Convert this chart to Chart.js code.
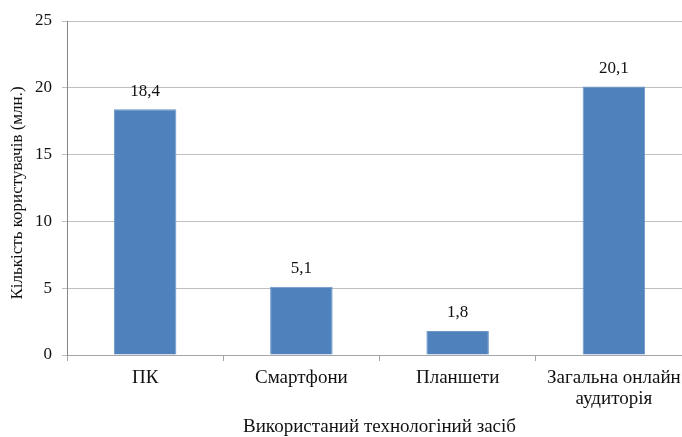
<!DOCTYPE html>
<html lang="uk">
<head>
<meta charset="utf-8">
<script src="https://cdn.jsdelivr.net/npm/chart.js@4/dist/chart.umd.min.js"></script>
<style>
  html, body { margin: 0; padding: 0; background: #fff; overflow: hidden; }
  #wrap { position: relative; width: 700px; height: 437px; }
</style>
</head>
<body>
<div id="wrap"><canvas id="chart" width="700" height="437"></canvas></div>
<script>
// Кількість користувачів за технологічним засобом, млн.
const categories = ['ПК', 'Смартфони', 'Планшети', ['Загальна онлайн', 'аудиторія']];
const users = [18.4, 5.1, 1.8, 20.1];
const yTicks = [0, 5, 10, 15, 20, 25];
const yTitle = 'Кількість користувачів (млн.)';
const xTitle = 'Використаний технологіний засіб';

const serif = 'Liberation Serif, Times New Roman, serif';
const ink = '#111111';

// Підписи значень над стовпцями (з комою як десятковим роздільником)
const valueLabels = {
  id: 'valueLabels',
  afterDatasetsDraw(chart) {
    const ctx = chart.ctx;
    const meta = chart.getDatasetMeta(0);
    ctx.save();
    ctx.font = '17px ' + serif;
    ctx.fillStyle = ink;
    ctx.textAlign = 'center';
    ctx.textBaseline = 'middle';
    meta.data.forEach((bar, i) => {
      const txt = users[i].toFixed(1).replace('.', ',');
      ctx.fillText(txt, bar.x, bar.y - 18);
    });
    ctx.restore();
  }
};

// Вертикальна назва осі значень
const yAxisTitle = {
  id: 'yAxisTitle',
  afterDraw(chart) {
    const ctx = chart.ctx;
    const area = chart.chartArea;
    ctx.save();
    ctx.font = '17px ' + serif;
    ctx.fillStyle = ink;
    ctx.textAlign = 'center';
    ctx.textBaseline = 'middle';
    ctx.translate(18, (area.top + area.bottom) / 2 + 5);
    ctx.rotate(-Math.PI / 2);
    ctx.fillText(yTitle, 0, 0);
    ctx.restore();
  }
};

new Chart(document.getElementById('chart'), {
  type: 'bar',
  data: {
    labels: categories,
    datasets: [{
      data: users,
      backgroundColor: '#4f81bd',
      borderColor: '#6c95c8',
      borderWidth: 1,
      barPercentage: 0.4,
      categoryPercentage: 1.0
    }]
  },
  options: {
    responsive: false,
    animation: false,
    devicePixelRatio: 1,
    layout: { padding: { top: 21, right: 8, bottom: 0, left: 0 } },
    plugins: {
      legend: { display: false },
      tooltip: { enabled: false }
    },
    scales: {
      x: {
        afterFit(scale) { scale.height = 82; },
        grid: {
          offset: true,
          drawOnChartArea: false,
          tickLength: 6,
          color: '#a6a6a6'
        },
        border: { color: '#a6a6a6' },
        ticks: {
          color: ink,
          font: { family: serif, size: 19, lineHeight: 1.08 },
          padding: 7,
          maxRotation: 0
        },
        title: {
          display: true,
          text: xTitle,
          color: ink,
          font: { family: serif, size: 19, lineHeight: 1.0 },
          padding: { top: 0, bottom: 0 }
        }
      },
      y: {
        min: 0,
        max: 25,
        afterFit(scale) { scale.width = 67; },
        afterBuildTicks(scale) { scale.ticks = yTicks.map(v => ({ value: v })); },
        grid: {
          color: '#bfbfbf',
          tickLength: 5
        },
        border: { color: '#868686' },
        ticks: {
          color: ink,
          font: { family: serif, size: 17 },
          padding: 10
        },
        title: { display: false }
      }
    }
  },
  plugins: [valueLabels, yAxisTitle]
});
</script>
</body>
</html>
